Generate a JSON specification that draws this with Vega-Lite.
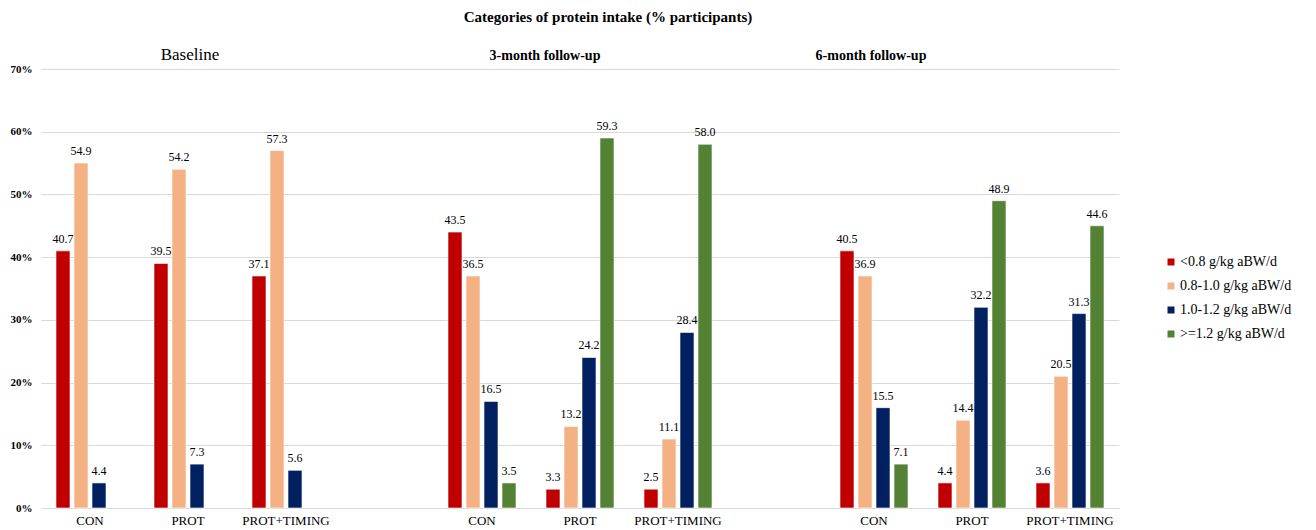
{
  "$schema": "https://vega.github.io/schema/vega-lite/v6.json",
  "autosize": {"type": "none"},
  "width": 1078,
  "height": 439,
  "padding": {"left": 41, "top": 69, "right": 197, "bottom": 22},
  "background": "white",
  "title": {
    "text": "Categories of protein intake (% participants)",
    "anchor": "middle",
    "frame": "group",
    "dx": 28,
    "offset": 21,
    "font": "Liberation Serif",
    "fontSize": 15,
    "fontWeight": "bold",
    "color": "#000000"
  },
  "config": {
    "view": {"stroke": null},
    "font": "Liberation Serif"
  },
  "datasets": {
    "bars": [
      {"cat": "B|CON", "level": "<0.8 g/kg aBW/d", "pct": 41, "label": "40.7"},
      {"cat": "B|CON", "level": "0.8-1.0 g/kg aBW/d", "pct": 55, "label": "54.9"},
      {"cat": "B|CON", "level": "1.0-1.2 g/kg aBW/d", "pct": 4, "label": "4.4"},
      {"cat": "B|PROT", "level": "<0.8 g/kg aBW/d", "pct": 39, "label": "39.5"},
      {"cat": "B|PROT", "level": "0.8-1.0 g/kg aBW/d", "pct": 54, "label": "54.2"},
      {"cat": "B|PROT", "level": "1.0-1.2 g/kg aBW/d", "pct": 7, "label": "7.3"},
      {"cat": "B|PROT+TIMING", "level": "<0.8 g/kg aBW/d", "pct": 37, "label": "37.1"},
      {"cat": "B|PROT+TIMING", "level": "0.8-1.0 g/kg aBW/d", "pct": 57, "label": "57.3"},
      {"cat": "B|PROT+TIMING", "level": "1.0-1.2 g/kg aBW/d", "pct": 6, "label": "5.6"},
      {"cat": "3|CON", "level": "<0.8 g/kg aBW/d", "pct": 44, "label": "43.5"},
      {"cat": "3|CON", "level": "0.8-1.0 g/kg aBW/d", "pct": 37, "label": "36.5"},
      {"cat": "3|CON", "level": "1.0-1.2 g/kg aBW/d", "pct": 17, "label": "16.5"},
      {"cat": "3|CON", "level": ">=1.2 g/kg aBW/d", "pct": 4, "label": "3.5"},
      {"cat": "3|PROT", "level": "<0.8 g/kg aBW/d", "pct": 3, "label": "3.3"},
      {"cat": "3|PROT", "level": "0.8-1.0 g/kg aBW/d", "pct": 13, "label": "13.2"},
      {"cat": "3|PROT", "level": "1.0-1.2 g/kg aBW/d", "pct": 24, "label": "24.2"},
      {"cat": "3|PROT", "level": ">=1.2 g/kg aBW/d", "pct": 59, "label": "59.3"},
      {"cat": "3|PROT+TIMING", "level": "<0.8 g/kg aBW/d", "pct": 3, "label": "2.5"},
      {"cat": "3|PROT+TIMING", "level": "0.8-1.0 g/kg aBW/d", "pct": 11, "label": "11.1"},
      {"cat": "3|PROT+TIMING", "level": "1.0-1.2 g/kg aBW/d", "pct": 28, "label": "28.4"},
      {"cat": "3|PROT+TIMING", "level": ">=1.2 g/kg aBW/d", "pct": 58, "label": "58.0"},
      {"cat": "6|CON", "level": "<0.8 g/kg aBW/d", "pct": 41, "label": "40.5"},
      {"cat": "6|CON", "level": "0.8-1.0 g/kg aBW/d", "pct": 37, "label": "36.9"},
      {"cat": "6|CON", "level": "1.0-1.2 g/kg aBW/d", "pct": 16, "label": "15.5"},
      {"cat": "6|CON", "level": ">=1.2 g/kg aBW/d", "pct": 7, "label": "7.1"},
      {"cat": "6|PROT", "level": "<0.8 g/kg aBW/d", "pct": 4, "label": "4.4"},
      {"cat": "6|PROT", "level": "0.8-1.0 g/kg aBW/d", "pct": 14, "label": "14.4"},
      {"cat": "6|PROT", "level": "1.0-1.2 g/kg aBW/d", "pct": 32, "label": "32.2"},
      {"cat": "6|PROT", "level": ">=1.2 g/kg aBW/d", "pct": 49, "label": "48.9"},
      {"cat": "6|PROT+TIMING", "level": "<0.8 g/kg aBW/d", "pct": 4, "label": "3.6"},
      {"cat": "6|PROT+TIMING", "level": "0.8-1.0 g/kg aBW/d", "pct": 21, "label": "20.5"},
      {"cat": "6|PROT+TIMING", "level": "1.0-1.2 g/kg aBW/d", "pct": 31, "label": "31.3"},
      {"cat": "6|PROT+TIMING", "level": ">=1.2 g/kg aBW/d", "pct": 45, "label": "44.6"}
    ],
    "panels": [
      {"cat": "B|PROT", "panel": "Baseline"},
      {"cat": "3|PROT", "panel": "3-month  follow-up"},
      {"cat": "6|CON", "panel": "6-month  follow-up"}
    ]
  },
  "layer": [
    {
      "data": {"name": "bars"},
      "mark": {"type": "bar", "stroke": "#ffffff", "strokeWidth": 0.6},
      "encoding": {
        "x": {
          "field": "cat",
          "type": "nominal",
          "sort": null,
          "scale": {
            "domain": ["B|CON", "B|PROT", "B|PROT+TIMING", "gap1", "3|CON", "3|PROT", "3|PROT+TIMING", "gap2", "6|CON", "6|PROT", "6|PROT+TIMING"],
            "paddingInner": 0,
            "paddingOuter": 0
          },
          "axis": {
            "title": null,
            "labelAngle": 0,
            "domain": false,
            "ticks": false,
            "labelPadding": 6,
            "labelFont": "Liberation Serif",
            "labelFontSize": 13,
            "labelColor": "#000000",
            "labelExpr": "indexof(datum.value, '|') >= 0 ? split(datum.value, '|')[1] : ''"
          }
        },
        "xOffset": {
          "field": "level",
          "type": "nominal",
          "scale": {
            "domain": ["<0.8 g/kg aBW/d", "0.8-1.0 g/kg aBW/d", "1.0-1.2 g/kg aBW/d", ">=1.2 g/kg aBW/d"],
            "paddingInner": 0.222,
            "paddingOuter": 0.833
          }
        },
        "y": {
          "field": "pct",
          "type": "quantitative",
          "scale": {"domain": [0, 70], "nice": false},
          "axis": {
            "title": null,
            "values": [0, 10, 20, 30, 40, 50, 60, 70],
            "labelExpr": "datum.value + '%'",
            "domain": false,
            "ticks": false,
            "labelPadding": 9,
            "labelFont": "Liberation Serif",
            "labelFontSize": 11,
            "labelFontWeight": "bold",
            "labelColor": "#000000",
            "gridColor": "#D9D9D9",
            "gridWidth": 1.2
          }
        },
        "color": {
          "field": "level",
          "type": "nominal",
          "scale": {
            "domain": ["<0.8 g/kg aBW/d", "0.8-1.0 g/kg aBW/d", "1.0-1.2 g/kg aBW/d", ">=1.2 g/kg aBW/d"],
            "range": ["#C00000", "#F4B183", "#002060", "#548235"]
          },
          "legend": {
            "title": null,
            "orient": "none",
            "legendX": 1123,
            "legendY": 186,
            "padding": 0,
            "symbolType": "square",
            "symbolSize": 49,
            "symbolStrokeWidth": 0,
            "labelFont": "Liberation Serif",
            "labelFontSize": 14,
            "labelColor": "#000000",
            "labelOffset": 2,
            "rowPadding": 10
          }
        }
      }
    },
    {
      "data": {"name": "bars"},
      "mark": {"type": "text", "baseline": "alphabetic", "dy": -8, "font": "Liberation Serif", "fontSize": 12, "color": "#000000"},
      "encoding": {
        "x": {"field": "cat", "type": "nominal", "sort": null},
        "xOffset": {"field": "level", "type": "nominal"},
        "y": {"field": "pct", "type": "quantitative"},
        "text": {"field": "label"}
      }
    },
    {
      "data": {"name": "panels"},
      "transform": [{"filter": "datum.panel == 'Baseline'"}],
      "mark": {"type": "text", "baseline": "alphabetic", "dx": 2, "dy": -9, "font": "Liberation Serif", "fontSize": 17, "color": "#000000"},
      "encoding": {
        "x": {"field": "cat", "type": "nominal", "sort": null},
        "y": {"datum": 70},
        "text": {"field": "panel"}
      }
    },
    {
      "data": {"name": "panels"},
      "transform": [{"filter": "datum.panel == '3-month  follow-up'"}],
      "mark": {"type": "text", "baseline": "alphabetic", "dx": -35, "dy": -9, "font": "Liberation Serif", "fontSize": 14, "fontWeight": "bold", "color": "#000000"},
      "encoding": {
        "x": {"field": "cat", "type": "nominal", "sort": null},
        "y": {"datum": 70},
        "text": {"field": "panel"}
      }
    },
    {
      "data": {"name": "panels"},
      "transform": [{"filter": "datum.panel == '6-month  follow-up'"}],
      "mark": {"type": "text", "baseline": "alphabetic", "dx": -3, "dy": -9, "font": "Liberation Serif", "fontSize": 14, "fontWeight": "bold", "color": "#000000"},
      "encoding": {
        "x": {"field": "cat", "type": "nominal", "sort": null},
        "y": {"datum": 70},
        "text": {"field": "panel"}
      }
    }
  ]
}
